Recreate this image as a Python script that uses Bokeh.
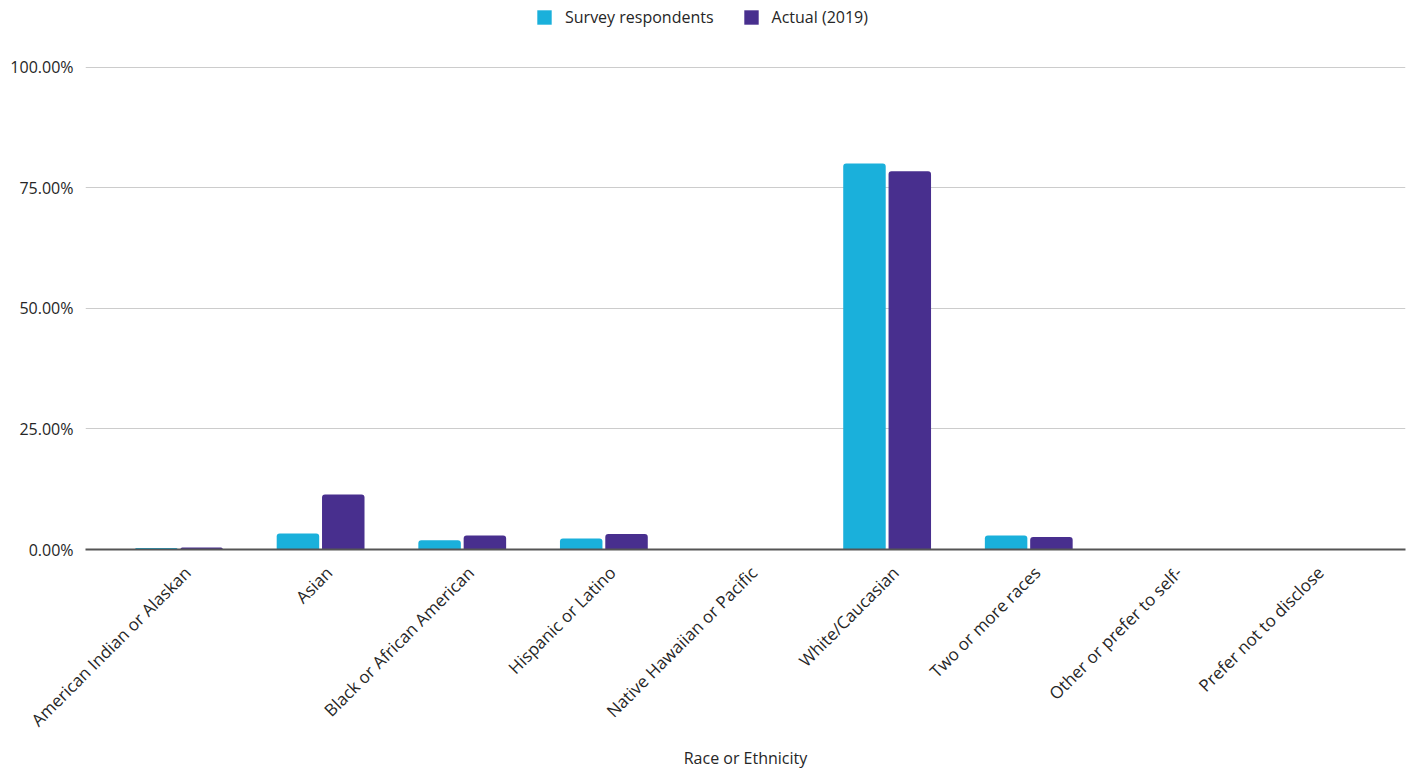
import math
from bokeh.plotting import figure
from bokeh.models import (Range1d, FixedTicker, PrintfTickFormatter,
                          ColumnDataSource, Legend, LegendItem)
from bokeh.transform import dodge
from bokeh.embed import file_html
from bokeh.resources import INLINE

categories = [
    "American Indian or Alaskan",
    "Asian",
    "Black or African American",
    "Hispanic or Latino",
    "Native Hawaiian or Pacific",
    "White/Caucasian",
    "Two or more races",
    "Other or prefer to self-",
    "Prefer not to disclose",
]
survey = [0.3, 3.3, 1.9, 2.3, 0.0, 80.1, 2.9, 0.0, 0.0]
actual = [0.4, 11.4, 2.9, 3.2, 0.0, 78.5, 2.6, 0.0, 0.0]
series_names = ["Survey respondents", "Actual (2019)"]
y_ticks = [0, 25, 50, 75, 100]
x_title = "Race or Ethnicity"

FONT = "Open Sans"
TXT = "#262626"
C_SURVEY = "#1AB0DB"
C_ACTUAL = "#482F8E"

PAD = 0.16
LABEL_SHIFT = 0.06
n = len(categories)
pos = [i + 0.5 for i in range(n)]  # category slots on the x scale

src = ColumnDataSource(dict(cat=categories, pos=pos, survey=survey, actual=actual))

p = figure(
    x_range=Range1d(-PAD, n + PAD),
    y_range=Range1d(0, 113.9),
    width=1408, height=772,
    output_backend="svg", toolbar_location=None,
    min_border_left=85, min_border_right=3, min_border_top=0, min_border_bottom=223,
)
p.outline_line_color = None
p.background_fill_color = "white"
p.border_fill_color = "white"

r1 = p.vbar(x=dodge("pos", -0.16), top="survey", width=0.3, source=src,
            fill_color=C_SURVEY, line_color=None, border_radius=(3, 3, 0, 0))
r2 = p.vbar(x=dodge("pos", 0.16), top="actual", width=0.3, source=src,
            fill_color=C_ACTUAL, line_color=None, border_radius=(3, 3, 0, 0))

# y axis
p.yaxis.ticker = FixedTicker(ticks=y_ticks)
p.yaxis.formatter = PrintfTickFormatter(format="%.2f%%")
p.yaxis.axis_line_color = None
p.yaxis.major_tick_line_color = None
p.yaxis.minor_tick_line_color = None
p.yaxis.major_label_text_font = FONT
p.yaxis.major_label_text_font_size = "16px"
p.yaxis.major_label_text_color = TXT
p.yaxis.major_label_standoff = 6

# x axis with category labels
label_ticks = [x + LABEL_SHIFT for x in pos]
xa = p.xaxis[0]
xa.ticker = FixedTicker(ticks=label_ticks)
xa.major_label_overrides = {t: c for t, c in zip(label_ticks, categories)}
xa.axis_line_color = "#555555"
xa.axis_line_width = 2
xa.major_tick_line_color = None
xa.minor_tick_line_color = None
xa.major_label_orientation = math.pi / 4
xa.major_label_text_font = FONT
xa.major_label_text_font_size = "17px"
xa.major_label_text_color = TXT
xa.major_label_standoff = 14
xa.axis_label = x_title
xa.axis_label_text_font = FONT
xa.axis_label_text_font_size = "16px"
xa.axis_label_text_font_style = "normal"
xa.axis_label_text_color = TXT
xa.axis_label_standoff = 5

p.xgrid.grid_line_color = None
p.ygrid.ticker = FixedTicker(ticks=y_ticks)
p.ygrid.grid_line_color = "#cccccc"
p.ygrid.grid_line_width = 1

legend = Legend(
    items=[LegendItem(label=series_names[0], renderers=[r1]),
           LegendItem(label=series_names[1], renderers=[r2])],
    location=(450, 521), orientation="horizontal",
    glyph_width=18, glyph_height=18, label_height=18,
    label_text_font=FONT, label_text_font_size="16px", label_text_color=TXT,
    label_standoff=12, spacing=28, padding=0, margin=0,
    border_line_color=None, background_fill_alpha=0,
)
p.add_layout(legend, "center")

open("out.html", "w").write(file_html(p, INLINE))
